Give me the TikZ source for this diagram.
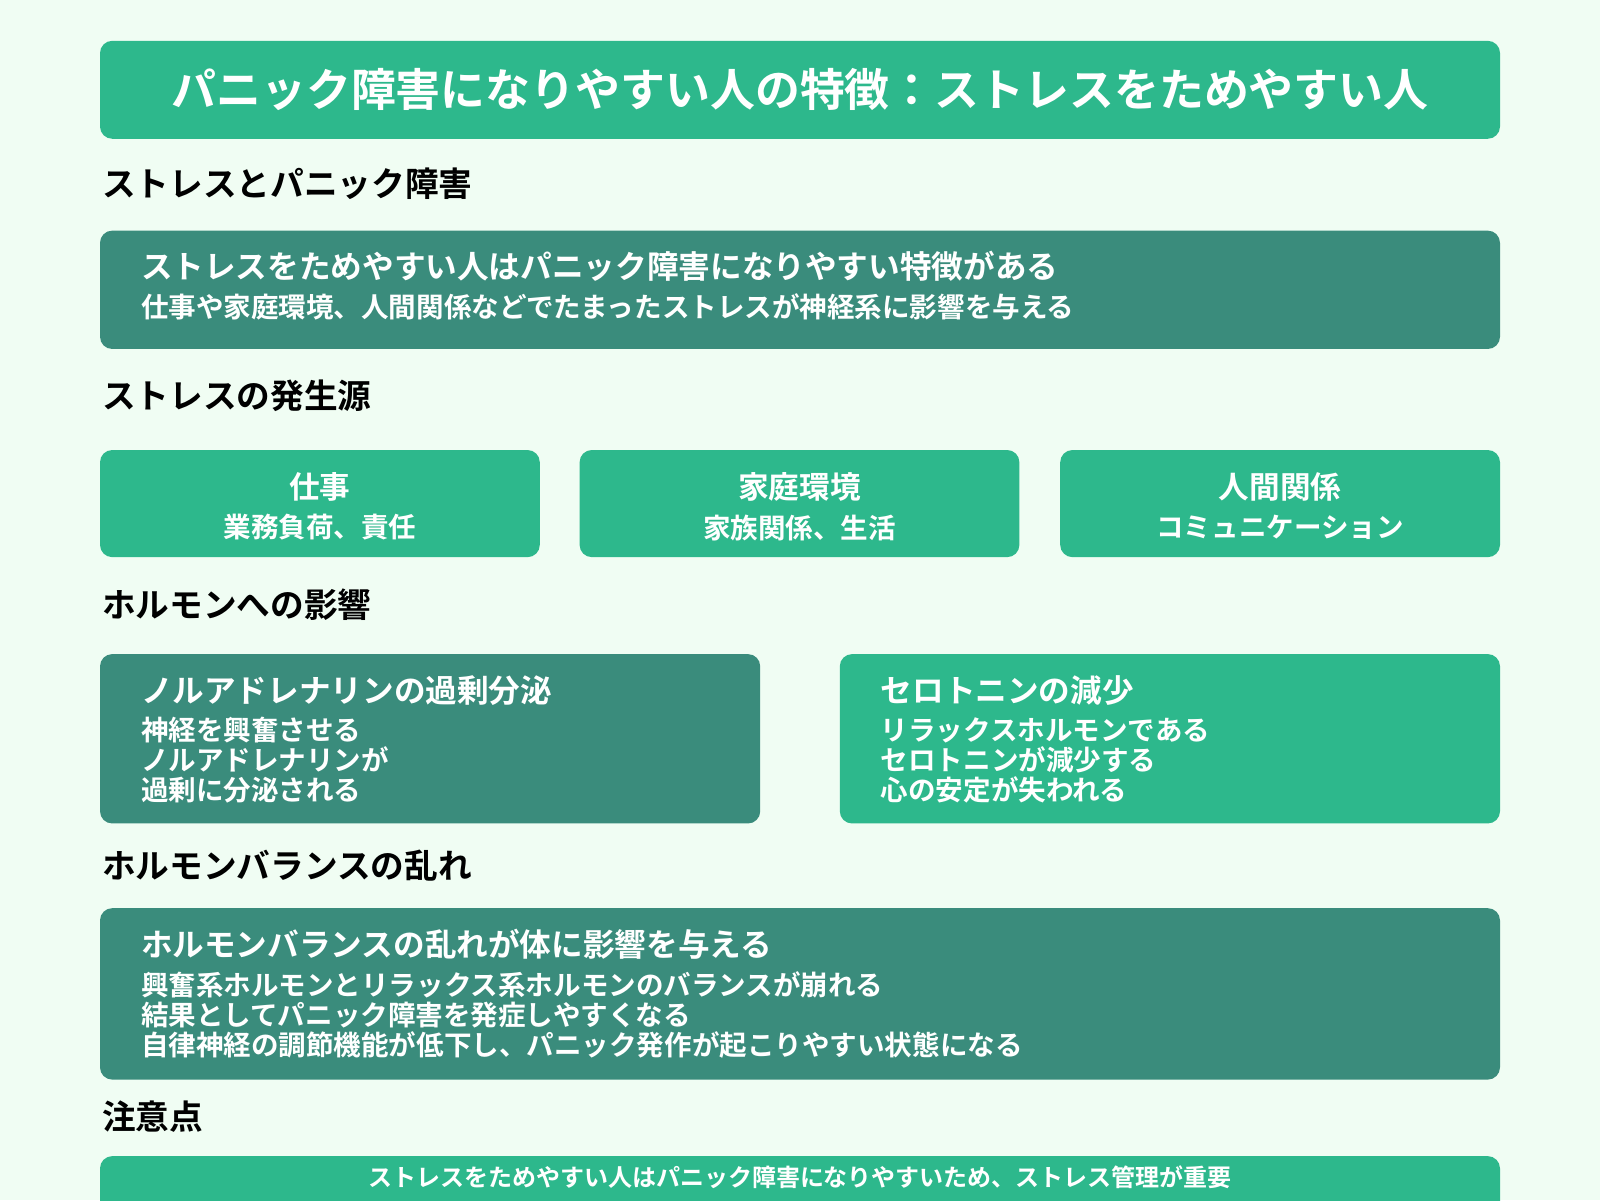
\documentclass[tikz,border=0pt]{standalone}
\usepackage{fontspec}
\setmainfont{Noto Sans CJK JP Bold}
\definecolor{bg}{HTML}{F0FDF3}
\definecolor{gr}{HTML}{2DB88C}
\definecolor{dk}{HTML}{3A8C7C}
\tikzset{
 box/.style={rounded corners=12pt,draw=none},
 wt/.style={text=white,inner sep=0pt},
 hd/.style={anchor=west,inner sep=0pt,font=\fontsize{33}{36}\selectfont},
}
\begin{document}
\begin{tikzpicture}[x=1pt,y=-1pt]
\fill[bg] (0,0) rectangle (1568,1176);
\useasboundingbox (0,0) rectangle (1568,1176);
% title
\fill[box,gr] (98,40) rectangle (1470,136);
\node[wt,font=\fontsize{44}{48}\selectfont] (title) at (784,88) {パニック障害になりやすい人の特徴：ストレスをためやすい人};
% section 1
\node[hd] (h1) at (100,180) {ストレスとパニック障害};
\fill[box,dk] (98,226) rectangle (1470,342);
\node[wt,anchor=west,font=\fontsize{31}{34}\selectfont] (b1a) at (138,261) {ストレスをためやすい人はパニック障害になりやすい特徴がある};
\node[wt,anchor=west,font=\fontsize{27}{30}\selectfont] (b1b) at (138,301) {仕事や家庭環境、人間関係などでたまったストレスが神経系に影響を与える};
% section 2
\node[hd] (h2) at (100,388) {ストレスの発生源};
\foreach \x/\t/\s [count=\i] in {98/仕事/業務負荷、責任,568/家庭環境/家族関係、生活,1039/人間関係/コミュニケーション}{
 \fill[box,gr] (\x,441) rectangle (\x+431,546);
 \node[wt,font=\fontsize{30}{33}\selectfont] (s\i t) at (\x+215.5,477) {\t};
 \node[wt,font=\fontsize{27}{30}\selectfont] (s\i s) at (\x+215.5,517) {\s};
}
% section 3
\node[hd] (h3) at (100,593) {ホルモンへの影響};
\fill[box,dk] (98,641) rectangle (745,807);
\fill[box,gr] (823,641) rectangle (1470,807);
\node[wt,anchor=west,font=\fontsize{31}{34}\selectfont] (n1) at (138,677) {ノルアドレナリンの過剰分泌};
\node[wt,anchor=north west,align=left,font=\fontsize{27}{29.3}\selectfont] (n2) at (138,703) {神経を興奮させる\\ノルアドレナリンが\\過剰に分泌される};
\node[wt,anchor=west,font=\fontsize{31}{34}\selectfont] (r1) at (863,677) {セロトニンの減少};
\node[wt,anchor=north west,align=left,font=\fontsize{27}{29.3}\selectfont] (r2) at (863,703) {リラックスホルモンである\\セロトニンが減少する\\心の安定が失われる};
% section 4
\node[hd] (h4) at (100,848) {ホルモンバランスの乱れ};
\fill[box,dk] (98,890) rectangle (1470,1058);
\node[wt,anchor=west,font=\fontsize{31}{34}\selectfont] (m1) at (138,925) {ホルモンバランスの乱れが体に影響を与える};
\node[wt,anchor=north west,align=left,font=\fontsize{27}{29.3}\selectfont] (m2) at (138,952) {興奮系ホルモンとリラックス系ホルモンのバランスが崩れる\\結果としてパニック障害を発症しやすくなる\\自律神経の調節機能が低下し、パニック発作が起こりやすい状態になる};
% section 5
\node[hd] (h5) at (100,1094) {注意点};
\fill[box,gr] (98,1133) rectangle (1470,1200);
\node[wt,font=\fontsize{23.5}{26}\selectfont] (note) at (784,1154) {ストレスをためやすい人はパニック障害になりやすいため、ストレス管理が重要};
\end{tikzpicture}
\end{document}
